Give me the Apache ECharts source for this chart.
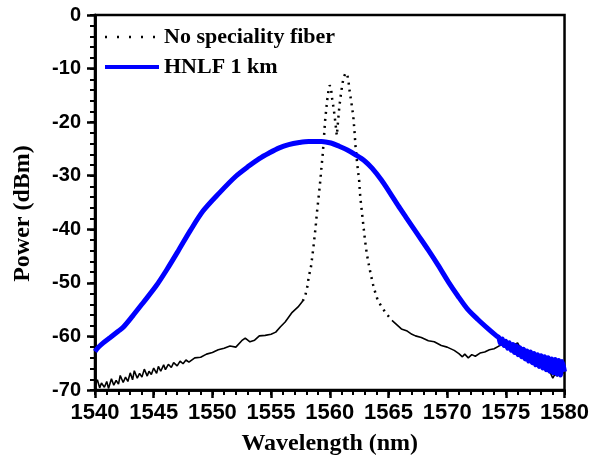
<!DOCTYPE html>
<html>
<head>
<meta charset="utf-8">
<script src="https://cdn.jsdelivr.net/npm/echarts@6/dist/echarts.min.js"></script>
<style>
  html, body { margin: 0; padding: 0; background: #fff; }
  #chart { width: 592px; height: 461px; }
</style>
</head>
<body>
<div id="chart"></div>
<script>
// wavelength (nm), power (dBm)
var xTicks = [1540, 1545, 1550, 1555, 1560, 1565, 1570, 1575, 1580]
var yTicks = [0, -10, -20, -30, -40, -50, -60, -70]

// HNLF 1 km spectrum
var hnlfData = [
  [1540.0, -62.8], [1540.3, -62.0], [1540.7, -61.2], [1541.3, -60.2], [1542.0, -59.0],
  [1542.4, -58.3], [1543.2, -56.2], [1544.1, -53.7], [1545.2, -50.6], [1546.1, -47.6],
  [1547.1, -44.0], [1548.1, -40.3], [1549.2, -36.6], [1550.6, -33.2], [1552.0, -30.1],
  [1553.1, -28.2], [1554.0, -26.8], [1554.8, -25.8], [1555.7, -24.8], [1556.5, -24.2],
  [1557.4, -23.8], [1558.2, -23.6], [1559.3, -23.6], [1560.1, -23.9], [1560.8, -24.5],
  [1561.5, -25.2], [1562.2, -26.1], [1563.0, -27.3], [1563.6, -28.6], [1564.4, -30.8],
  [1565.1, -33.1], [1565.8, -35.5], [1566.6, -38.1], [1567.5, -41.0], [1568.4, -43.9],
  [1569.2, -46.6], [1570.1, -49.8], [1570.9, -52.4], [1571.7, -54.8], [1572.6, -56.8],
  [1573.5, -58.6], [1574.2, -59.9], [1574.4, -60.2], [1574.55, -61.3], [1574.7, -60.5],
  [1574.85, -61.7], [1575.0, -60.9], [1575.15, -62.2], [1575.3, -61.2], [1575.45, -62.6],
  [1575.6, -61.5], [1575.75, -63.0], [1575.9, -61.8], [1576.05, -63.4], [1576.2, -62.1],
  [1576.35, -63.8], [1576.5, -62.4], [1576.65, -64.2], [1576.8, -62.7], [1576.95, -64.6],
  [1577.1, -62.9], [1577.25, -64.9], [1577.4, -63.2], [1577.55, -65.3], [1577.7, -63.4],
  [1577.85, -65.6], [1578.0, -63.6], [1578.15, -65.9], [1578.3, -63.8], [1578.45, -66.2],
  [1578.6, -64.0], [1578.75, -66.5], [1578.9, -64.2], [1579.05, -66.8], [1579.2, -64.3],
  [1579.35, -67.0], [1579.5, -64.5], [1579.65, -67.2], [1579.8, -64.7], [1580.0, -66.6]
]

// no speciality fiber: noise floor left of the peak
var fiberFloorLeft = [
  [1540.0, -69.2], [1540.2, -68.1], [1540.4, -69.6], [1540.55, -68.7], [1540.8, -69.5],
  [1541.0, -68.4], [1541.15, -69.7], [1541.4, -67.9], [1541.6, -69.1], [1541.8, -68.2],
  [1542.0, -68.9], [1542.15, -67.3], [1542.4, -68.6], [1542.6, -67.6], [1542.8, -68.4],
  [1543.0, -66.8], [1543.2, -68.1], [1543.35, -66.4], [1543.6, -67.8], [1543.8, -66.9],
  [1544.0, -67.6], [1544.2, -66.1], [1544.45, -67.4], [1544.6, -66.5], [1544.8, -67.1],
  [1545.0, -65.9], [1545.25, -66.9], [1545.4, -65.6], [1545.6, -66.5], [1545.85, -65.3],
  [1546.0, -66.2], [1546.25, -65.2], [1546.5, -65.8], [1546.7, -64.9], [1547.0, -65.5],
  [1547.25, -64.6], [1547.5, -65.1], [1547.75, -64.4], [1548.0, -64.8], [1548.5, -64.0],
  [1549.0, -63.9], [1549.5, -63.3], [1550.0, -63.0], [1550.5, -62.5], [1551.0, -62.2],
  [1551.5, -61.8], [1552.0, -62.0], [1552.5, -60.8], [1552.8, -60.3], [1553.2, -61.0],
  [1553.6, -60.7], [1554.0, -59.9], [1554.5, -59.8], [1555.0, -59.6], [1555.4, -59.2],
  [1555.8, -58.2], [1556.2, -57.3], [1556.8, -55.5], [1557.3, -54.5], [1557.7, -53.4]
]

// the double peak, drawn dotted
var fiberPeak = [
  [1557.7, -53.4], [1557.9, -52.5], [1558.1, -50.6], [1558.2, -49.0], [1558.4, -47.0],
  [1558.6, -43.5], [1558.8, -39.5], [1558.9, -37.0], [1559.05, -34.0], [1559.2, -30.8],
  [1559.3, -28.3], [1559.4, -26.0], [1559.5, -23.0], [1559.6, -19.8], [1559.7, -17.6],
  [1559.8, -15.6], [1559.9, -14.0], [1560.0, -13.1], [1560.1, -13.6], [1560.2, -15.6],
  [1560.3, -17.0], [1560.4, -18.6], [1560.5, -20.5], [1560.6, -22.5], [1560.7, -20.0],
  [1560.8, -17.5], [1560.9, -15.6], [1561.0, -14.0], [1561.1, -12.6], [1561.2, -11.6],
  [1561.35, -10.8], [1561.5, -11.2], [1561.6, -12.5], [1561.7, -14.3], [1561.85, -16.5],
  [1562.0, -18.8], [1562.1, -21.5], [1562.2, -24.7], [1562.35, -28.0], [1562.5, -30.8],
  [1562.6, -34.0], [1562.75, -37.0], [1562.9, -40.0], [1563.0, -42.0], [1563.15, -44.5],
  [1563.3, -46.3], [1563.5, -48.5], [1563.7, -50.4], [1563.9, -52.0], [1564.1, -53.3],
  [1564.4, -54.4], [1564.8, -55.7], [1565.3, -57.0]
]

// noise floor right of the peak
var fiberFloorRight = [
  [1565.3, -57.0], [1565.7, -57.8], [1566.1, -58.6], [1566.6, -59.0], [1567.0, -59.6],
  [1567.3, -59.9], [1567.8, -60.2], [1568.4, -60.8], [1568.9, -61.0], [1569.5, -61.7],
  [1570.0, -62.0], [1570.6, -62.6], [1571.0, -63.2], [1571.3, -63.8], [1571.5, -63.3],
  [1571.8, -64.0], [1572.1, -63.4], [1572.4, -63.7], [1572.8, -63.1], [1573.2, -62.9],
  [1573.6, -62.5], [1574.0, -62.3], [1574.4, -61.8], [1574.7, -61.5], [1575.0, -61.9],
  [1575.4, -62.1], [1575.7, -61.6], [1576.0, -61.2], [1576.3, -62.4], [1576.7, -63.2],
  [1577.0, -63.7], [1577.4, -64.4], [1577.8, -65.2], [1578.2, -65.6], [1578.5, -66.4],
  [1578.8, -66.8], [1579.0, -67.8], [1579.2, -67.0], [1579.4, -67.4], [1579.7, -66.6],
  [1580.0, -66.9]
]

var chart = echarts.init(document.getElementById('chart'))

var sans = 'Liberation Sans, Arial, sans-serif'
var serif = 'Liberation Serif, Times New Roman, serif'
var black = '#000'

// bare axis used only for the 1 nm / 2 dB small ticks
function minorAxis(pos, min, max, step) {
  return {
    type: 'value',
    position: pos,
    min: min,
    max: max,
    interval: step,
    axisLine: { show: true, onZero: false, lineStyle: { color: black, width: 2.5 } },
    axisTick: { show: true, length: 5, lineStyle: { width: 2, color: black } },
    axisLabel: { show: false },
    splitLine: { show: false }
  }
}

chart.setOption({
  animation: false,
  backgroundColor: '#fff',
  grid: {
    left: 95,
    right: 25,
    top: 15,
    bottom: 64,
    show: true,
    borderColor: black,
    borderWidth: 2.5
  },
  legend: {
    orient: 'vertical',
    left: 98,
    top: 21,
    itemWidth: 54,
    itemHeight: 14,
    itemGap: 8,
    textStyle: {
      fontFamily: serif,
      fontWeight: 'bold',
      fontSize: 22,
      color: black
    },
    data: [
      {
        name: 'No speciality fiber',
        itemStyle: { opacity: 0 },
        lineStyle: { type: [2, 10], width: 2.5, color: black }
      },
      { name: 'HNLF 1 km', itemStyle: { opacity: 0 }, lineStyle: { width: 4 } }
    ]
  },
  xAxis: [
    {
      type: 'value',
      position: 'bottom',
      min: xTicks[0],
      max: xTicks[xTicks.length - 1],
      interval: 5,
      name: 'Wavelength (nm)',
      nameLocation: 'middle',
      nameGap: 42,
      nameTextStyle: { fontFamily: serif, fontWeight: 'bold', fontSize: 24, color: black },
      axisLine: { onZero: false, lineStyle: { color: black, width: 2.5 } },
      axisTick: { length: 8, lineStyle: { width: 2.5, color: black } },
      axisLabel: {
        fontFamily: sans, fontWeight: 'bold', fontSize: 22, color: black, margin: 12,
        formatter: function (v) { return String(v) }
      },
      splitLine: { show: false }
    },
    minorAxis('bottom', xTicks[0], xTicks[xTicks.length - 1], 1)
  ],
  yAxis: [
    {
      type: 'value',
      position: 'left',
      min: yTicks[yTicks.length - 1],
      max: yTicks[0],
      interval: 10,
      name: 'Power (dBm)',
      nameLocation: 'middle',
      nameGap: 60,
      nameTextStyle: {
        fontFamily: serif, fontWeight: 'bold', fontSize: 24, color: black,
        padding: [0, 22, 0, 0] // nudges the title a bit lower
      },
      axisLine: { onZero: false, lineStyle: { color: black, width: 2.5 } },
      axisTick: { length: 8, lineStyle: { width: 2.5, color: black } },
      axisLabel: { fontFamily: sans, fontWeight: 'bold', fontSize: 20, color: black, margin: 14 },
      splitLine: { show: false }
    },
    minorAxis('left', yTicks[yTicks.length - 1], yTicks[0], 2)
  ],
  series: [
    {
      name: 'floorLeft',
      type: 'line',
      symbol: 'none',
      data: fiberFloorLeft,
      lineStyle: { color: black, width: 1.6 }
    },
    {
      name: 'floorRight',
      type: 'line',
      symbol: 'none',
      data: fiberFloorRight,
      lineStyle: { color: black, width: 1.6 }
    },
    {
      name: 'No speciality fiber',
      type: 'line',
      symbol: 'none',
      data: fiberPeak,
      lineStyle: { color: black, width: 2.5, type: [2, 5] },
      itemStyle: { color: black }
    },
    {
      name: 'HNLF 1 km',
      type: 'line',
      symbol: 'none',
      smooth: 0.3,
      data: hnlfData,
      lineStyle: { color: '#0000ff', width: 5 },
      itemStyle: { color: '#0000ff' }
    }
  ]
})
</script>
</body>
</html>
